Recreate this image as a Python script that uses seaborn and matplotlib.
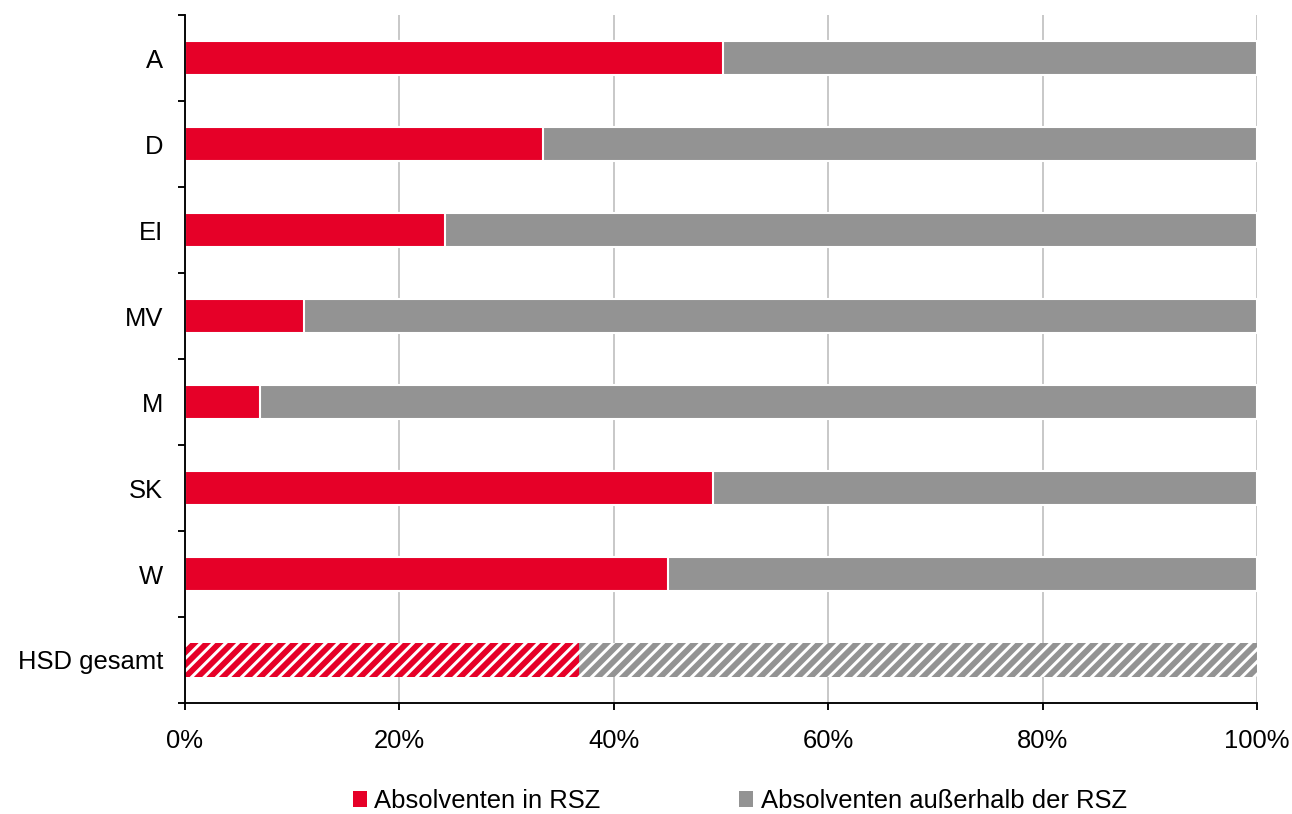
import numpy as np
import pandas as pd
import matplotlib.pyplot as plt
import seaborn as sns
from matplotlib.patches import Patch

# Data (share of graduates in %)
categories = ["A", "D", "EI", "MV", "M", "SK", "W", "HSD gesamt"]
in_rsz = [50.2, 33.4, 24.3, 11.1, 7.0, 49.3, 45.1, 36.8]
total = [100, 100, 100, 100, 100, 100, 100, 100]
legend_labels = ["Absolventen in RSZ", "Absolventen außerhalb der RSZ"]

red = "#E60028"
grey = "#939393"
fs = 12.3

df = pd.DataFrame({"Kategorie": categories, "RSZ": in_rsz, "Gesamt": total})

sns.set_style("white")
plt.rcParams["font.family"] = ["Liberation Sans", "DejaVu Sans"]
plt.rcParams["hatch.linewidth"] = 2.8
plt.rcParams["text.color"] = "black"
plt.rcParams["xtick.color"] = "black"
plt.rcParams["ytick.color"] = "black"

fig = plt.figure(figsize=(1293 / 150, 814 / 150), dpi=150)
ax = fig.add_axes([185 / 1293, 1 - 703 / 814, (1257 - 185) / 1293, (703 - 15) / 814])

# Grey full bars first, red on top
sns.barplot(data=df, y="Kategorie", x="Gesamt", color=grey, saturation=1,
            width=0.4, orient="h", ax=ax)
sns.barplot(data=df, y="Kategorie", x="RSZ", color=red, saturation=1,
            width=0.4, orient="h", ax=ax)

# Hatched last bar (HSD gesamt)
n = len(categories)
bars = ax.patches
grey_last = bars[n - 1]
red_last = bars[2 * n - 1]
for p, c in [(grey_last, grey), (red_last, red)]:
    p.set_facecolor("white")
    p.set_edgecolor(c)
    p.set_hatch("////")
    p.set_linewidth(0)

ax.set_xlim(0, 100)
ax.set_ylim(n - 0.5, -0.5)
ax.set_xticks([0, 20, 40, 60, 80, 100])
ax.set_xticklabels(["0%", "20%", "40%", "60%", "80%", "100%"])
ax.set_yticks(range(n))
ax.set_yticklabels(categories)
ax.set_yticks(np.arange(-0.5, n, 1.0), minor=True)
ax.set_xlabel("")
ax.set_ylabel("")

ax.grid(axis="x", color="#BFBFBF", linewidth=0.8)
ax.set_axisbelow(True)
for s in ["top", "right"]:
    ax.spines[s].set_visible(False)
for s in ["left", "bottom"]:
    ax.spines[s].set_color("black")
    ax.spines[s].set_linewidth(0.9)

ax.tick_params(axis="y", which="major", length=0, pad=10.5, labelsize=fs)
ax.tick_params(axis="y", which="minor", length=3.4, width=0.9, color="black", left=True)
ax.tick_params(axis="x", length=3.4, width=0.9, color="black", bottom=True,
               pad=9, labelsize=fs)

handles = [Patch(facecolor=red, edgecolor="none"), Patch(facecolor=grey, edgecolor="none")]
fig.legend(handles, legend_labels, loc="center", bbox_to_anchor=(0.572, 1 - 801 / 814),
           ncol=2, frameon=False, fontsize=fs, handlelength=0.55, handleheight=0.55,
           handletextpad=0.3, columnspacing=5.4, borderpad=0)

fig.savefig("out.png", dpi=150)
